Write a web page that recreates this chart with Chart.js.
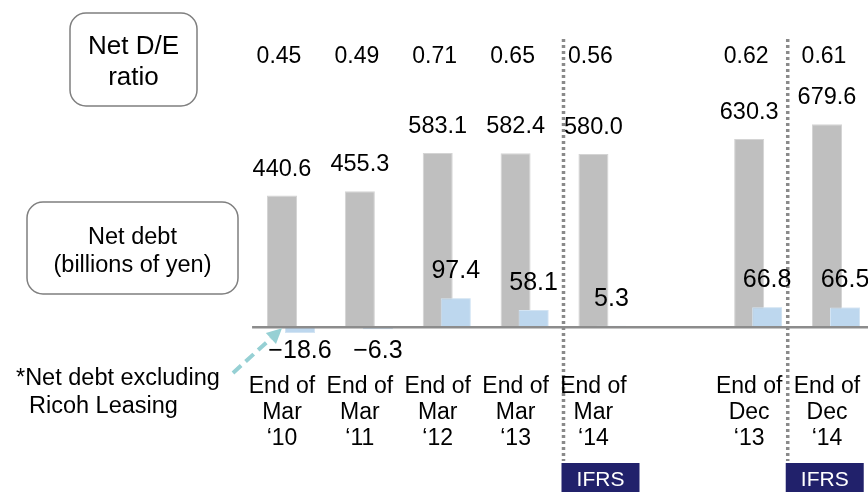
<!DOCTYPE html>
<html><head><meta charset="utf-8">
<script src="https://cdn.jsdelivr.net/npm/chart.js@4.4.1/dist/chart.umd.min.js"></script>
<style>html,body{margin:0;padding:0;background:#fff;}canvas{display:block;}</style>
</head><body>
<canvas id="c" width="868" height="492"></canvas>
<script>
// ---- data ----
const categories = [
  ['End of', 'Mar', '\u201810'],
  ['End of', 'Mar', '\u201811'],
  ['End of', 'Mar', '\u201812'],
  ['End of', 'Mar', '\u201813'],
  ['End of', 'Mar', '\u201814'],
  [''],
  ['End of', 'Dec', '\u201813'],
  ['End of', 'Dec', '\u201814']
];
const netDebt          = [440.6, 455.3, 583.1, 582.4, 580.0, null, 630.3, 679.6];
const netDebtExLeasing = [-18.6, -6.3, 97.4, 58.1, 5.3, null, 66.8, 66.5];
const netDERatio       = [0.45, 0.49, 0.71, 0.65, 0.56, null, 0.62, 0.61];
const regimeLabels     = ['IFRS', 'IFRS'];
const boxTitleRatio    = ['Net D/E', 'ratio'];
const boxTitleDebt     = ['Net debt', '(billions of yen)'];
const footnote         = ['*Net debt excluding', 'Ricoh Leasing'];

const FONT = '"Liberation Sans", Arial, sans-serif';

function roundRectPath(ctx, x, y, w, h, r) {
  ctx.beginPath();
  ctx.moveTo(x + r, y);
  ctx.lineTo(x + w - r, y);
  ctx.arcTo(x + w, y, x + w, y + r, r);
  ctx.lineTo(x + w, y + h - r);
  ctx.arcTo(x + w, y + h, x + w - r, y + h, r);
  ctx.lineTo(x + r, y + h);
  ctx.arcTo(x, y + h, x, y + h - r, r);
  ctx.lineTo(x, y + r);
  ctx.arcTo(x, y, x + r, y, r);
  ctx.closePath();
}

const overlay = {
  id: 'overlay',
  afterDatasetsDraw(chart) {
    const ctx = chart.ctx;
    const xs = chart.scales.x, ys = chart.scales.y;
    const grey = chart.getDatasetMeta(0), blue = chart.getDatasetMeta(1);
    // light-blue bars sit in front of the grey ones
    blue.controller.draw();

    const zero = ys.getPixelForValue(0);
    const step = xs.getPixelForValue(1) - xs.getPixelForValue(0);
    ctx.save();

    // zero line
    ctx.strokeStyle = '#8c8c8c';
    ctx.lineWidth = 2.5;
    ctx.beginPath();
    ctx.moveTo(xs.getPixelForValue(0) - step / 2, zero);
    ctx.lineTo(chart.width, zero);
    ctx.stroke();

    // dotted accounting-standard dividers + IFRS badges
    const dividers = [3.5, 6.38];
    dividers.forEach((p, k) => {
      const px = xs.getPixelForValue(p);
      ctx.save();
      ctx.strokeStyle = '#8a8a8a';
      ctx.lineWidth = 3.5;
      ctx.setLineDash([3, 3]);
      ctx.beginPath();
      ctx.moveTo(px, 39);
      ctx.lineTo(px, 461);
      ctx.stroke();
      ctx.restore();
      ctx.fillStyle = '#21216b';
      ctx.fillRect(px - 2, 463, 78, 30);
      ctx.fillStyle = '#ffffff';
      ctx.font = '21px ' + FONT;
      ctx.textAlign = 'center';
      ctx.textBaseline = 'alphabetic';
      ctx.fillText(regimeLabels[k], px - 2 + 39, 486);
    });

    ctx.fillStyle = '#000';
    ctx.textAlign = 'center';
    ctx.textBaseline = 'alphabetic';
    grey.data.forEach((bar, i) => {
      if (netDebt[i] == null) return;
      ctx.font = '23.5px ' + FONT;
      ctx.fillText(netDebt[i].toFixed(1), bar.x, bar.y - 20);
      ctx.font = '23px ' + FONT;
      ctx.fillText(netDERatio[i].toFixed(2), bar.x - 3, 63);
      categories[i].forEach((line, k) => ctx.fillText(line, bar.x, 392.5 + k * 26));
    });
    ctx.font = '25px ' + FONT;
    blue.data.forEach((bar, i) => {
      const v = netDebtExLeasing[i];
      if (v == null) return;
      const txt = v < 0 ? '\u2212' + Math.abs(v).toFixed(1) : v.toFixed(1);
      ctx.fillText(txt, bar.x, v < 0 ? zero + 31 : bar.y - 20);
    });

    // title boxes
    ctx.strokeStyle = '#7f7f7f';
    ctx.lineWidth = 1.5;
    roundRectPath(ctx, 70, 13, 127, 93, 16);
    ctx.stroke();
    roundRectPath(ctx, 27, 202, 211, 92, 16);
    ctx.stroke();
    ctx.font = '26px ' + FONT;
    ctx.fillText(boxTitleRatio[0], 133.5, 53.5);
    ctx.fillText(boxTitleRatio[1], 133.5, 85);
    ctx.font = '23.5px ' + FONT;
    ctx.fillText(boxTitleDebt[0], 132.5, 243.5);
    ctx.fillText(boxTitleDebt[1], 132.5, 271.5);

    // footnote
    ctx.textAlign = 'left';
    ctx.fillText(footnote[0], 16, 385);
    ctx.fillText(footnote[1], 29, 413);

    // dashed arrow to the first light-blue bar
    const tipX = blue.data[0].x - 18, tipY = zero + 1;
    const tailX = 233, tailY = 373;
    const ang = Math.atan2(tipY - tailY, tipX - tailX);
    const headLen = 15, headW = 7.5;
    const bx = tipX - headLen * Math.cos(ang), by = tipY - headLen * Math.sin(ang);
    ctx.strokeStyle = '#96d0d4';
    ctx.fillStyle = '#96d0d4';
    ctx.lineWidth = 4;
    ctx.setLineDash([11, 6]);
    ctx.beginPath();
    ctx.moveTo(tailX, tailY);
    ctx.lineTo(bx, by);
    ctx.stroke();
    ctx.setLineDash([]);
    ctx.beginPath();
    ctx.moveTo(tipX, tipY);
    ctx.lineTo(bx + headW * Math.sin(ang), by - headW * Math.cos(ang));
    ctx.lineTo(bx - headW * Math.sin(ang), by + headW * Math.cos(ang));
    ctx.closePath();
    ctx.fill();

    ctx.restore();
  }
};

new Chart(document.getElementById('c'), {
  type: 'bar',
  data: {
    labels: categories,
    datasets: [
      {
        label: 'Net debt',
        data: netDebt,
        backgroundColor: '#bfbfbf',
        borderColor: '#d4d4d4',
        borderWidth: 1,
        borderSkipped: 'start',
        clip: false
      },
      {
        label: 'Net debt excluding Ricoh Leasing',
        data: netDebtExLeasing,
        backgroundColor: '#bdd7ee',
        borderColor: '#d3e4f3',
        borderWidth: 1,
        borderSkipped: 'start',
        clip: false
      }
    ]
  },
  options: {
    responsive: false,
    animation: false,
    devicePixelRatio: 1,
    categoryPercentage: 0.4624,
    barPercentage: 1.6667,
    layout: { padding: { left: 291, right: 32, top: 0, bottom: 75 } },
    scales: {
      x: { type: 'category', offset: false, display: false },
      y: { type: 'linear', min: -300, max: 1095, display: false }
    },
    plugins: { legend: { display: false }, tooltip: { enabled: false } }
  },
  plugins: [overlay]
});
</script>
</body></html>
